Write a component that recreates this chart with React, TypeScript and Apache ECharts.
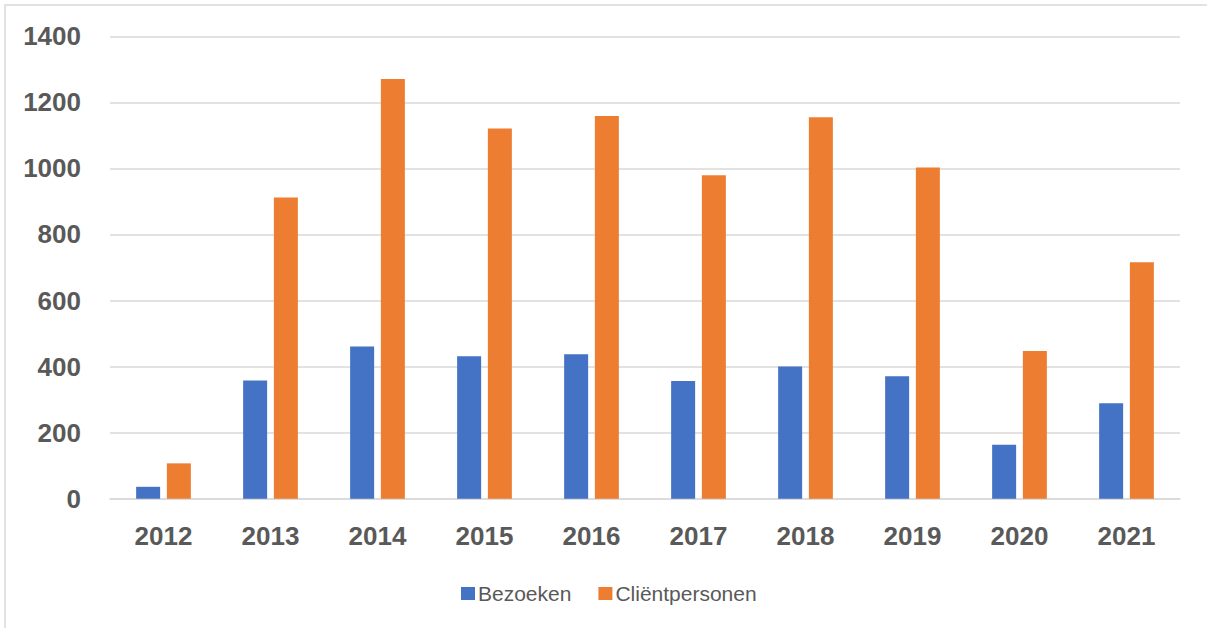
import React, { useEffect, useRef } from "react";
import * as echarts from "echarts";

const years = ["2012", "2013", "2014", "2015", "2016", "2017", "2018", "2019", "2020", "2021"];
const bezoeken = [36, 358, 461, 431, 437, 356, 400, 371, 163, 289];
const clientpersonen = [107, 912, 1271, 1121, 1159, 979, 1155, 1003, 447, 716];
const seriesNames = ["Bezoeken", "Cliëntpersonen"];

export default function App() {
  const ref = useRef<HTMLDivElement>(null);
  useEffect(() => {
    if (!ref.current) return;
    const chart = echarts.init(ref.current, undefined, { renderer: "svg" });
    const font = "'Liberation Sans', Arial, sans-serif";
    chart.setOption({
      animation: false,
      backgroundColor: "#ffffff",
      textStyle: { fontFamily: font },
      graphic: [
        {
          type: "rect",
          shape: { x: 5, y: 5, width: 1400, height: 800 },
          style: { fill: "none", stroke: "#d9d9d9", lineWidth: 1.5 },
          silent: true,
        },
      ],
      grid: { left: 110, right: 27, top: 36.3, bottom: 129.3, containLabel: false },
      legend: {
        data: seriesNames,
        left: 456,
        top: 578,
        itemWidth: 14,
        itemHeight: 13,
        itemGap: 27,
        icon: "rect",
        textStyle: { fontSize: 21, color: "#595959", fontFamily: font, padding: [0, 0, 0, -2] },
      },
      xAxis: {
        type: "category",
        data: years,
        axisTick: { show: false },
        axisLine: { lineStyle: { color: "#d9d9d9", width: 1.5 } },
        axisLabel: { fontSize: 26, fontWeight: "bold", color: "#595959", margin: 24, fontFamily: font },
      },
      yAxis: {
        type: "value",
        min: 0,
        max: 1400,
        interval: 200,
        axisLine: { show: false },
        axisTick: { show: false },
        splitLine: { lineStyle: { color: "#d9d9d9", width: 1.5 } },
        axisLabel: {
          fontSize: 26,
          fontWeight: "bold",
          color: "#595959",
          margin: 29,
          fontFamily: font,
          formatter: (v: number) => String(v),
        },
      },
      series: [
        {
          name: seriesNames[0],
          type: "bar",
          data: bezoeken,
          barWidth: 24,
          barGap: "28%",
          itemStyle: { color: "#4472C4" },
        },
        {
          name: seriesNames[1],
          type: "bar",
          data: clientpersonen,
          barWidth: 24,
          barGap: "28%",
          itemStyle: { color: "#ED7D31" },
        },
      ],
    });
    return () => chart.dispose();
  }, []);
  return (
    <div
      ref={ref}
      style={{ position: "fixed", left: 0, top: 0, width: 1207, height: 628 }}
    />
  );
}
